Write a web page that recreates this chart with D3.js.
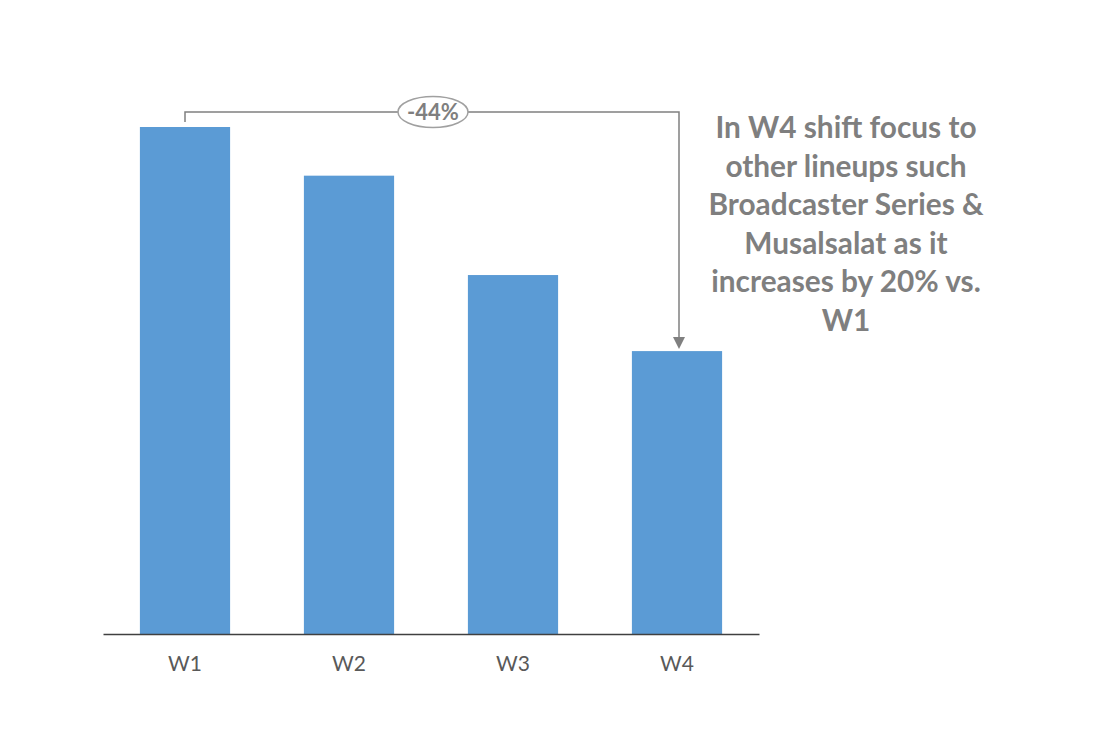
<!DOCTYPE html>
<html><head><meta charset="utf-8">
<script src="https://cdn.jsdelivr.net/npm/d3@7"></script>
<style>body{margin:0;background:#fff}svg{display:block}</style>
</head><body>
<svg id="c" width="1108" height="742"></svg>
<script>
const categories = ["W1","W2","W3","W4"];
const values = [100, 90.4, 70.8, 55.8];
const changeLabel = "-44%";
const noteLines = ["In W4 shift focus to","other lineups such","Broadcaster Series &","Musalsalat as it","increases by 20% vs.","W1"];

const svg = d3.select("#c");
const x = d3.scaleBand().domain(categories).range([103,759]).paddingInner(0.45).paddingOuter(0.225);
const y = d3.scaleLinear().domain([0,100]).range([634,127]);

svg.selectAll("rect.bar").data(values).join("rect")
  .attr("class","bar")
  .attr("x",(d,i)=>x(categories[i]))
  .attr("width",x.bandwidth())
  .attr("y",d=>y(d))
  .attr("height",d=>y(0)-y(d))
  .attr("fill","#5b9bd5");

const ax = svg.append("g").attr("transform","translate(0,634)")
  .call(d3.axisBottom(x).tickSize(0).tickPadding(22));
ax.select(".domain").attr("stroke","#404040").attr("stroke-width",1.5);
ax.selectAll("text").attr("font-family","Lato, 'Open Sans', sans-serif").attr("font-size",21).attr("fill","#595959");

// bracket
const x1 = x("W1")+x.bandwidth()/2, x4 = x("W4")+x.bandwidth()/2 + 2;
const yTop = 112;
svg.append("path")
  .attr("d",`M${x1},${y(values[0])-5} V${yTop} H${x4} V${y(values[3])-12}`)
  .attr("fill","none").attr("stroke","#808080").attr("stroke-width",1.5);
svg.append("path")
  .attr("d",`M${x4-6},${y(values[3])-14} L${x4+6},${y(values[3])-14} L${x4},${y(values[3])-2} Z`)
  .attr("fill","#808080");
const cx = 433;
svg.append("ellipse").attr("cx",cx).attr("cy",yTop).attr("rx",35).attr("ry",15.5)
  .attr("fill","#fff").attr("stroke","#a0a0a0").attr("stroke-width",1.5);
svg.append("text").attr("x",cx).attr("y",yTop+8).attr("text-anchor","middle")
  .attr("font-family","Lato, 'Open Sans', sans-serif").attr("font-weight","bold").attr("font-size",22)
  .attr("fill","#7f7f7f").text(changeLabel);

// note
const note = svg.append("text").attr("text-anchor","middle")
  .attr("font-family","Lato, 'Open Sans', sans-serif").attr("font-weight","bold").attr("font-size",29.8)
  .attr("fill","#7f7f7f");
noteLines.forEach((t,i)=>{
  note.append("tspan").attr("x",846).attr("y",138+i*38.6).text(t);
});
</script>
</body></html>
